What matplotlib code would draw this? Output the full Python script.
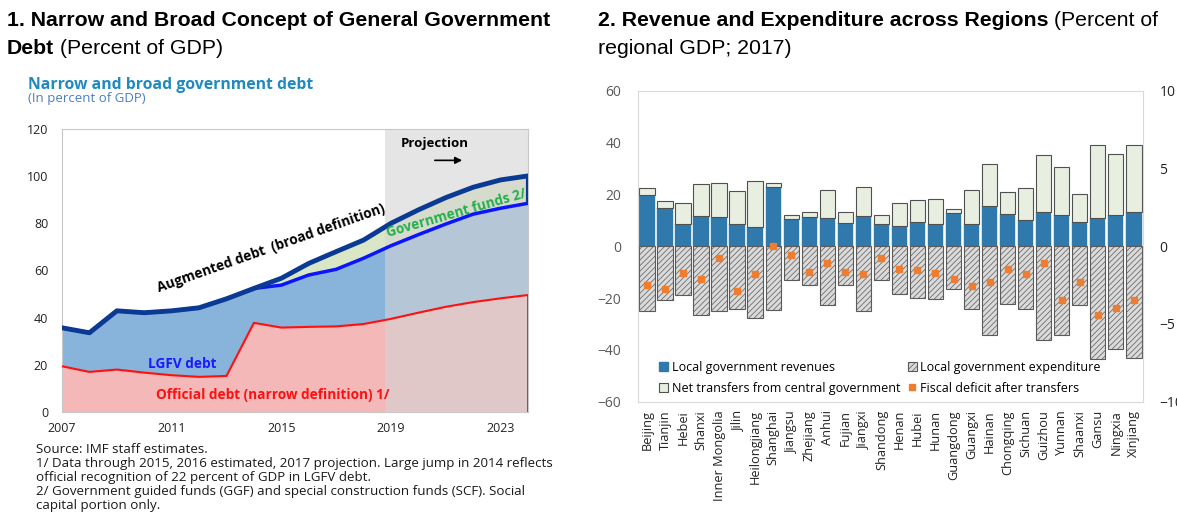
import numpy as np
import matplotlib
matplotlib.use('Agg')
import matplotlib.pyplot as plt
from matplotlib.patches import Patch
from matplotlib.lines import Line2D

plt.rcParams['font.family'] = ['Open Sans', 'DejaVu Sans']
plt.rcParams['hatch.linewidth'] = 0.5

# ---- Panel 1 data (percent of GDP) ----
years = np.arange(2007, 2025)
official_debt = [19.4, 17.0, 18.0, 16.7, 15.6, 14.9, 15.3, 37.8, 35.8, 36.1,
                 36.3, 37.3, 39.5, 42.1, 44.6, 46.6, 48.2, 49.6]
lgfv_top = [35.7, 33.6, 42.9, 42.1, 42.9, 44.2, 48.0, 52.4, 53.8, 58.1,
            60.5, 65.2, 70.5, 75.2, 79.7, 83.9, 86.4, 88.5]
augmented_debt = [35.7, 33.6, 42.9, 42.1, 42.9, 44.2, 48.0, 52.4, 56.7, 63.0,
                  68.0, 72.9, 80.0, 85.7, 90.9, 95.3, 98.4, 100.1]
year_ticks = [2007, 2011, 2015, 2019, 2023]
proj_start = 2018.8

# ---- Panel 2 data (percent of regional GDP, 2017) ----
provinces = ['Beijing', 'Tianjin', 'Hebei', 'Shanxi', 'Inner Mongolia', 'Jilin',
             'Heilongjiang', 'Shanghai', 'Jiangsu', 'Zhejiang', 'Anhui', 'Fujian',
             'Jiangxi', 'Shandong', 'Henan', 'Hubei', 'Hunan', 'Guangdong',
             'Guangxi', 'Hainan', 'Chongqing', 'Sichuan', 'Guizhou', 'Yunnan',
             'Shaanxi', 'Gansu', 'Ningxia', 'Xinjiang']
revenues = [19.8, 14.9, 8.7, 11.8, 11.1, 8.4, 7.3, 22.8, 10.4, 11.1, 10.9, 9.1,
            11.7, 8.7, 7.6, 9.4, 8.4, 12.9, 8.4, 15.4, 12.5, 10.2, 13.1, 12.1,
            9.4, 10.9, 12.1, 13.2]
transfers = [2.7, 2.7, 8.1, 12.0, 13.1, 12.8, 18.0, 1.5, 1.8, 2.0, 10.6, 3.9,
             11.2, 3.3, 9.1, 8.6, 9.9, 1.6, 13.3, 16.2, 8.5, 12.3, 21.9, 18.3,
             10.8, 28.3, 23.4, 26.0]
expenditure = [-25.1, -20.9, -18.9, -26.4, -25.1, -24.4, -27.7, -24.7, -12.9,
               -14.8, -22.8, -14.8, -25.1, -12.9, -18.5, -19.9, -20.2, -16.6,
               -24.3, -34.1, -22.4, -24.4, -36.3, -34.1, -22.8, -43.7, -39.5, -43.0]
deficit = [-2.5, -2.74, -1.71, -2.12, -0.73, -2.87, -1.82, 0.0, -0.58, -1.67,
           -1.07, -1.67, -1.76, -0.75, -1.44, -1.56, -1.71, -2.08, -2.53, -2.32,
           -1.46, -1.78, -1.05, -3.47, -2.29, -4.44, -3.99, -3.47]

fig = plt.figure(figsize=(11.77, 5.18), dpi=100)
head = dict(family='Liberation Sans', fontsize=15.3)

# ---- Panel 1 ----
ax1 = fig.add_axes([0.0527, 0.2046, 0.3959, 0.5464])
ax1.fill_between(years, 0, official_debt, color='#f5b8b8', lw=0, zorder=1)
ax1.fill_between(years, official_debt, lgfv_top, color='#88b3da', lw=0, zorder=1)
ax1.fill_between(years, lgfv_top, augmented_debt, color='#d9e7c6', lw=0, zorder=1)
ax1.axvspan(proj_start, years[-1], color='#d4d4d4', alpha=0.6, lw=0, zorder=2)
ax1.plot(years, official_debt, color='#ff1010', lw=1.5, zorder=3)
ax1.vlines(years[-1], 0, official_debt[-1], color='#ff1010', lw=2, zorder=3)
ax1.plot(years, lgfv_top, color='#0a14ff', lw=2.5, zorder=4)
ax1.plot(years, augmented_debt, color='#0b3a94', lw=3.5, zorder=5)
ax1.vlines(years[-1], lgfv_top[-1], augmented_debt[-1], color='#0b3a94', lw=3, zorder=5)

ax1.set_xlim(years[0], years[-1])
ax1.set_ylim(0, 120)
ax1.set_yticks(range(0, 121, 20))
ax1.set_xticks(year_ticks)
ax1.tick_params(length=0, labelsize=9, colors='#222222')
ax1.tick_params(axis='y', pad=10)
ax1.tick_params(axis='x', pad=7)
for s in ax1.spines.values():
    s.set_color('#c8c8c8')

ax1.text(2019.37, 114, 'Projection', fontsize=9.5, fontweight='bold', va='center', zorder=6)
ax1.annotate('', xy=(2021.7, 106.7), xytext=(2020.5, 106.7),
             arrowprops=dict(arrowstyle='-|>', color='black', lw=1.2, mutation_scale=10),
             zorder=6)
ax1.text(2014.64, 69.4, 'Augmented debt  (broad definition)', fontsize=9.8,
         fontweight='bold', rotation=19.5, ha='center', va='center',
         rotation_mode='anchor', zorder=6)
ax1.text(2021.4, 84.4, 'Government funds 2/', fontsize=9.8, fontweight='bold',
         color='#22b04b', rotation=16, ha='center', va='center',
         rotation_mode='anchor', zorder=6)
ax1.text(2011.4, 20.3, 'LGFV debt', fontsize=9.8, fontweight='bold', color='#1a1aff',
         ha='center', va='center', zorder=6)
ax1.text(2014.67, 7.1, 'Official debt (narrow definition) 1/', fontsize=9.8,
         fontweight='bold', color='#ff1010', ha='center', va='center', zorder=6)

# ---- headings ----
fig.text(0.006, 0.96, '1. Narrow and Broad Concept of General Government',
         fontweight='bold', va='center', **head)
t2 = fig.text(0.006, 0.907, 'Debt', fontweight='bold', va='center', **head)
ax1.annotate(' (Percent of GDP)', xy=(1, 0), xycoords=t2, va='bottom', ha='left',
             annotation_clip=False, **head)
r1 = fig.text(0.508, 0.96, '2. Revenue and Expenditure across Regions',
              fontweight='bold', va='center', **head)
ax1.annotate(' (Percent of', xy=(1, 0), xycoords=r1, va='bottom', ha='left',
             annotation_clip=False, **head)
fig.text(0.508, 0.907, 'regional GDP; 2017)', va='center', **head)

fig.text(0.024, 0.836, 'Narrow and broad government debt', color='#1f8ac0',
         fontsize=11.3, fontweight='bold', va='center')
fig.text(0.024, 0.809, '(In percent of GDP)', color='#4a7fc1', fontsize=9.5,
         va='center')

notes = ['Source: IMF staff estimates.',
         '1/ Data through 2015, 2016 estimated, 2017 projection. Large jump in 2014 reflects',
         'official recognition of 22 percent of GDP in LGFV debt.',
         '2/ Government guided funds (GGF) and special construction funds (SCF). Social',
         'capital portion only.']
for i, line in enumerate(notes):
    fig.text(0.031, 0.133 - i * 0.027, line, fontsize=9.6, color='#1a1a1a', va='center')

# ---- Panel 2 ----
x = np.arange(len(provinces))
ax2 = fig.add_axes([0.542, 0.2245, 0.429, 0.6005])
ax2.bar(x, revenues, width=0.85, color='#2f79ad', edgecolor='#2f79ad', lw=0.3, zorder=2)
ax2.bar(x, transfers, bottom=revenues, width=0.85, color='#e8efe1',
        edgecolor='#505050', lw=0.8, zorder=2)
ax2.bar(x, expenditure, width=0.85, color='#dadada', edgecolor='#5a5a5a',
        hatch='//////', lw=0.8, zorder=2)
ax2.set_xlim(-0.5, len(provinces) - 0.5)
ax2.set_ylim(-60, 60)
ax2.set_yticks(range(-60, 61, 20))
ax2.set_xticks(x)
ax2.set_xticklabels(provinces, rotation=90, fontsize=9.2, color='#222222')
ax2.tick_params(length=0)
ax2.tick_params(axis='y', labelsize=10, colors='#595959', pad=12)
ax2.tick_params(axis='x', pad=6)
for s in ax2.spines.values():
    s.set_color('#d9d9d9')

ax3 = ax2.twinx()
ax3.plot(x, deficit, 's', color='#ed7d31', ms=5, zorder=3)
ax3.set_ylim(-10, 10)
ax3.set_yticks(range(-10, 11, 5))
ax3.tick_params(length=0, labelsize=10, colors='#222222', pad=12)
for s in ax3.spines.values():
    s.set_visible(False)

handles = [Patch(facecolor='#2f79ad', edgecolor='#2f79ad'),
           Patch(facecolor='#e8efe1', edgecolor='#505050', lw=0.8),
           Patch(facecolor='#dadada', edgecolor='#5a5a5a', hatch='//////', lw=0.8),
           Line2D([], [], marker='s', ls='', color='#ed7d31', ms=5)]
labels = ['Local government revenues', 'Net transfers from central government',
          'Local government expenditure', 'Fiscal deficit after transfers']
ax3.legend(handles, labels, ncol=2, loc='lower left', bbox_to_anchor=(0.02, -0.013),
           frameon=False, fontsize=9, handlelength=0.7, handleheight=0.7,
           handletextpad=0.3, columnspacing=0.6, labelspacing=0.6)

fig.savefig('out.png', dpi=100, facecolor='white')
